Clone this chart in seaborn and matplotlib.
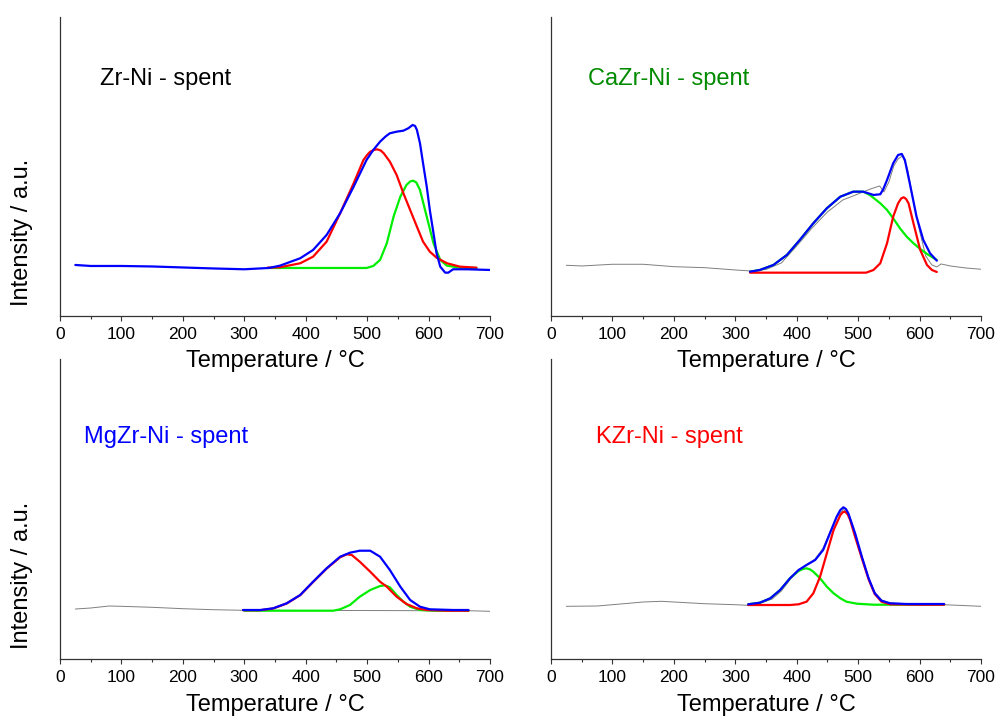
import matplotlib
matplotlib.use("Agg")
import matplotlib.pyplot as plt
from matplotlib.ticker import MultipleLocator
import seaborn as sns

sns.set_style("ticks")
plt.rcParams["font.family"] = ["Liberation Sans", "DejaVu Sans"]
plt.rcParams["text.color"] = "black"
plt.rcParams["axes.labelcolor"] = "black"

# ---------------------------------------------------------------------------
# Data (temperature in °C, intensity in arbitrary units)
# ---------------------------------------------------------------------------
# Zr-Ni - spent
zr_exp_T = [25, 50, 100, 150, 200, 250, 300, 340, 358, 391, 412, 434, 456, 478, 499,
            510, 521, 530, 537, 548, 559, 567, 574, 578, 581, 586, 591, 597, 602, 608, 613, 619, 627,
            632, 640, 662, 700]
zr_exp_I = [51, 50, 50, 49.5, 48.5, 47.5, 46.7, 48, 50.3, 57.7, 66, 81, 102.7, 129.3, 156,
            166, 174.3, 179.5, 182.7, 184.3, 185.3, 187.7, 191, 190, 186, 172.7, 152.7, 129.3, 106, 82.7, 62.7, 49.3, 43.3,
            43.3, 46.7, 46.7, 46]
zr_p1_T = [338, 358, 391, 412, 434, 456, 478, 494, 500, 505, 511, 516, 522, 527, 537, 548, 559, 570,
           581, 591, 602, 613, 630, 651, 678]
zr_p1_I = [48.3, 48.7, 52.7, 59.3, 74.3, 102.7, 132.7, 156, 161, 164.3, 166, 166.7, 165.5, 162.7, 154.3, 141, 122.7, 106,
           89.3, 74.3, 64.3, 58.3, 52.7, 49.3, 48.3]
zr_p2_T = [338, 400, 499, 510, 521, 532, 543, 554, 564, 570, 575, 580, 586, 597, 608, 619, 630, 651, 678]
zr_p2_I = [48, 48, 48, 50, 56, 72.7, 99.3, 119.3, 131, 134.5, 135.3, 133.5, 126, 99.3, 72.7, 56, 50.3, 48.3, 48]

# CaZr-Ni - spent
ca_exp_T = [25, 50, 100, 150, 200, 250, 300, 325, 350, 375, 400, 425, 450, 475, 500, 520,
            535, 542, 550, 558, 565, 572, 580, 590, 600, 610, 620, 628, 635, 650, 675, 700]
ca_exp_I = [50.7, 50, 51.7, 51.7, 49.3, 48.3, 46, 45, 46.5, 53, 70, 88, 104, 116, 122, 127,
            130, 124, 134, 150, 157, 160, 148, 115, 85, 60, 51, 49, 52, 50, 48, 46.7]
ca_fit_T = [324, 340, 362, 384, 405, 427, 449, 471, 492, 508, 519, 525, 536, 541, 547, 557, 565,
            571, 576, 584, 595, 606, 617, 628]
ca_fit_I = [44.3, 46, 51, 61, 76, 92.7, 107.7, 119.3, 124.3, 124.3, 122.2, 121, 121.7, 127, 136, 152.7, 161,
            162, 156, 132.7, 99.3, 76, 62.7, 55.3]
ca_p1_T = [324, 340, 362, 384, 405, 427, 449, 471, 492, 508, 519, 536, 547, 557, 568, 579,
           590, 601, 612, 628]
ca_p1_I = [44.3, 46, 51, 61, 76, 92.7, 107.7, 119.3, 124.3, 124.3, 121, 112.7, 106, 97.7, 87.7, 79.3,
           72.7, 67, 62, 56]
ca_p2_T = [324, 400, 480, 513, 525, 536, 547, 557, 565, 570, 574, 578, 582, 590, 601, 612, 620, 628]
ca_p2_I = [43.3, 43.3, 43.3, 43.3, 46, 52.7, 72.7, 99.3, 112.7, 117.5, 118.7, 117, 112.7, 92.7, 66, 51, 46, 44]

# MgZr-Ni - spent
mg_exp_T = [25, 50, 80, 100, 150, 200, 250, 300, 400, 500, 600, 665, 700]
mg_exp_I = [50, 51, 53, 52.7, 51.7, 50.3, 49.3, 48.7, 48.5, 48.5, 48.3, 48.3, 47.7]
mg_fit_T = [298, 326, 347, 369, 391, 412, 434, 456, 472, 488, 505, 521, 537, 554, 570,
            586, 602, 640, 665]
mg_fit_I = [49, 49, 50.7, 55.7, 64, 77.3, 90.7, 102.3, 106.3, 108.3, 108.3, 102.3, 89, 72.3, 59,
            52.3, 49.7, 49, 49]
mg_p1_T = [298, 326, 347, 369, 391, 412, 434, 456, 467, 475, 488, 505, 521, 532, 548, 564,
           581, 597, 630, 665]
mg_p1_I = [48.8, 48.8, 50.5, 55.5, 63.8, 77, 90.4, 101.7, 104.7, 104, 97.3, 87.3, 77.3, 72.3, 62.3, 55,
           50.7, 49, 48.3, 48.3]
mg_p2_T = [300, 400, 445, 456, 472, 488, 505, 521, 529, 537, 548, 559, 570, 586, 608, 665]
mg_p2_I = [48.3, 48.3, 48.3, 49.7, 54, 62.3, 69, 73, 73.7, 71.7, 64, 57.3, 52.3, 49, 48.3, 48.3]

# KZr-Ni - spent
k_exp_T = [25, 75, 100, 150, 180, 200, 250, 300, 320, 340, 360, 375, 390, 403, 416, 430,
           443, 454, 465, 476, 484, 495, 506, 516, 527, 538, 552, 580, 640, 700]
k_exp_I = [52.7, 53, 54.3, 57, 57.7, 57, 55.3, 54.3, 53.7, 55.5, 60, 68, 80, 88.5, 94.5, 100,
           111, 127, 142, 149.5, 145, 126, 103, 82, 67, 59, 56, 55.3, 54.3, 52.7]
k_fit_T = [321, 340, 357, 373, 389, 403, 416, 430, 443, 454, 465, 471, 476, 480, 484, 495, 506,
           517, 527, 538, 552, 579, 640]
k_fit_I = [54.7, 56.3, 60.7, 69, 80.7, 89, 94, 99, 109, 125.7, 142.3, 149, 151.7, 150, 145.7, 125.7, 102.3,
           80.7, 65.7, 58.3, 55.7, 55, 55]
k_p1_T = [321, 389, 403, 416, 427, 438, 449, 460, 471, 475, 479, 483, 487, 495, 506, 517, 527,
          538, 552, 600, 640]
k_p1_I = [54, 54, 54.7, 57.3, 65.7, 82.3, 105.7, 129, 144, 146.8, 147.3, 144.5, 139, 122.3, 100.7, 79.7, 65,
          57.3, 54.7, 54.3, 54.3]
k_p2_T = [321, 340, 357, 373, 389, 403, 410, 416, 422, 427, 438, 449, 460, 471, 481, 498, 525, 552, 640]
k_p2_I = [54.7, 56.3, 60.7, 69, 80.7, 88, 90, 90.7, 89.5, 87.3, 80.7, 72.3, 65.7, 60.7, 57.3, 55.3, 54.3, 54.3, 54.3]

panels = [
    ("Zr-Ni - spent", "black", None,
     (zr_p2_T, zr_p2_I), (zr_p1_T, zr_p1_I), (zr_exp_T, zr_exp_I)),
    ("CaZr-Ni - spent", "#008a00", (ca_exp_T, ca_exp_I),
     (ca_p1_T, ca_p1_I), (ca_p2_T, ca_p2_I), (ca_fit_T, ca_fit_I)),
    ("MgZr-Ni - spent", "#0000ff", (mg_exp_T, mg_exp_I),
     (mg_p2_T, mg_p2_I), (mg_p1_T, mg_p1_I), (mg_fit_T, mg_fit_I)),
    ("KZr-Ni - spent", "#ff0000", (k_exp_T, k_exp_I),
     (k_p2_T, k_p2_I), (k_p1_T, k_p1_I), (k_fit_T, k_fit_I)),
]

# axes placement (figure fractions) and label positions
rects = [
    [0.0601, 0.5587, 0.4309, 0.4176],
    [0.5521, 0.5587, 0.4309, 0.4176],
    [0.0601, 0.0796, 0.4309, 0.4190],
    [0.5521, 0.0796, 0.4309, 0.4190],
]
title_pos = [(0.093, 0.773), (0.086, 0.773), (0.056, 0.721), (0.105, 0.721)]

fig = plt.figure(figsize=(9.98, 7.16), dpi=100)

for i, (title, tcolor, exp, green, red, blue) in enumerate(panels):
    ax = fig.add_axes(rects[i])
    ax.set_facecolor("none")
    if exp is not None:
        sns.lineplot(x=exp[0], y=exp[1], ax=ax, color="#7f7f7f", linewidth=0.7)
    sns.lineplot(x=green[0], y=green[1], ax=ax, color="#00ee00", linewidth=1.6)
    sns.lineplot(x=red[0], y=red[1], ax=ax, color="#ff0000", linewidth=1.6)
    sns.lineplot(x=blue[0], y=blue[1], ax=ax, color="#0000ff", linewidth=1.6)

    ax.set_xlim(0, 700)
    ax.set_ylim(0, 299 if i < 2 else 300)
    ax.xaxis.set_major_locator(MultipleLocator(100))
    ax.xaxis.set_minor_locator(MultipleLocator(50))
    ax.set_yticks([])
    ax.tick_params(axis="x", which="major", length=3.6, width=0.8, pad=4,
                   labelsize=12.5, color="#333333", labelcolor="black")
    ax.tick_params(axis="x", which="minor", length=2.2, width=0.8, color="#333333")
    for side in ("top", "right"):
        ax.spines[side].set_visible(False)
    for side in ("left", "bottom"):
        ax.spines[side].set_color("#333333")
        ax.spines[side].set_linewidth(0.9)

    ax.set_xlabel("Temperature / °C", fontsize=17)
    ax.xaxis.set_label_coords(0.5, -0.115)
    if i % 2 == 0:
        ax.set_ylabel("Intensity / a.u.", fontsize=17, va="center")
        ax.yaxis.set_label_coords(-0.088, 0.28)
    else:
        ax.set_ylabel("")

    ax.text(title_pos[i][0], title_pos[i][1], title, transform=ax.transAxes,
            fontsize=17, color=tcolor, ha="left", va="baseline")

fig.savefig("out.png", dpi=100)
